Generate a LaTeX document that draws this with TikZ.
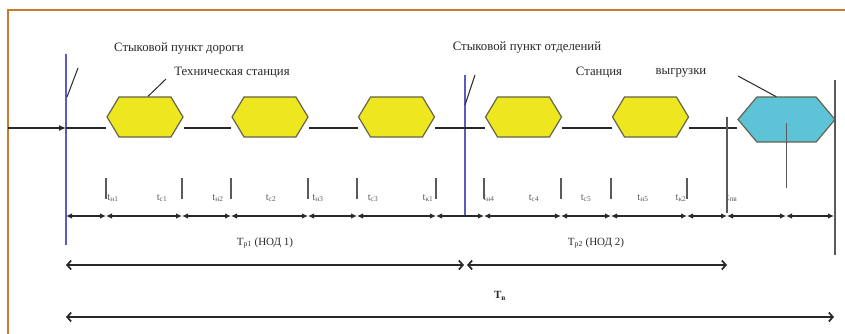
\documentclass[tikz,border=0pt]{standalone}
\usepackage{fontspec}
\setmainfont{Liberation Serif}
\usetikzlibrary{shapes.symbols,arrows.meta,calc}

\definecolor{frameorange}{RGB}{200,122,45}
\definecolor{junctionblue}{RGB}{92,92,190}
\definecolor{hexyellow}{RGB}{238,230,30}
\definecolor{hexcyan}{RGB}{92,196,214}
\definecolor{hexedge}{RGB}{100,100,80}
\definecolor{ink}{RGB}{40,40,40}
\definecolor{softink}{RGB}{90,90,90}

\begin{document}
\begin{tikzpicture}[x=1pt,y=-1pt,
  station/.style={shape=signal, signal to=east and west, draw=hexedge,
    line width=1.2pt, fill=hexyellow, inner sep=0pt,
    minimum width=76pt, minimum height=40pt, signal pointer angle=118},
  unloading/.style={station, fill=hexcyan, minimum width=97pt,
    minimum height=45pt, signal pointer angle=100},
  track/.style={draw=ink, line width=1.2pt},
  junction/.style={draw=junctionblue, line width=2.6pt},
  leader/.style={draw=ink, line width=1pt},
  tickmark/.style={draw=softink, line width=1.2pt},
  segment/.style={draw=ink, line width=1.3pt,
    {Latex[length=6pt,width=5.5pt]}-{Latex[length=6pt,width=5.5pt]}},
  span/.style={draw=ink, line width=1.7pt,
    {Straight Barb[length=4pt,width=9pt]}-{Straight Barb[length=4pt,width=9pt]}},
  caption/.style={text=ink, font=\fontsize{12.8}{14}\selectfont, inner sep=0pt},
  tlabel/.style={text=softink, font=\fontsize{10.5}{12}\selectfont, inner sep=0pt},
  spanlabel/.style={text=ink, font=\fontsize{11}{13}\selectfont, inner sep=0pt}
]
\useasboundingbox (0,0) rectangle (845,334);

% page frame
\draw[frameorange, line width=1.3pt] (8,334) -- (8,10) -- (845,10);

% captions
\node[caption] (capRoad) at (179,49) {Стыковой пункт дороги};
\node[caption] (capTech) at (232,73) {Техническая станция};
\node[caption] (capDiv)  at (527,48) {Стыковой пункт отделений};
\node[caption] (capSt)   at (599,73) {Станция};
\node[caption] (capUnl)  at (681,73) {выгрузки};

% stations
\node[station] (s1) at (145,117) {};
\node[station] (s2) at (270,117) {};
\node[station] (s3) at (396.5,117) {};
\node[station] (s4) at (523.5,117) {};
\node[station] (s5) at (650.5,117) {};
\node[unloading] (s6) at (786.5,119.5) {};

% junction lines
\coordinate (j1top) at (66,54);   \coordinate (j1bot) at (66,245);
\coordinate (j2top) at (465,75);  \coordinate (j2bot) at (465,215);
\draw[junction] (j1top) -- (j1bot);
\draw[junction] (j2top) -- (j2bot);

% slashes marking the junction points
\coordinate (sl1a) at (67,97);  \coordinate (sl1b) at (78,68);
\coordinate (sl2a) at (465,105); \coordinate (sl2b) at (475,75);
\draw[leader] (sl1a) -- (sl1b);
\draw[leader] (sl2a) -- (sl2b);

% leader lines to stations
\coordinate (ld1) at (166,79);
\draw[leader] (ld1) -- ($(s1.north)+(3,0)$);
\coordinate (ld2) at (738,76);
\draw[leader] (ld2) -- ($(s6.north west)+(20,0)$);

% main track
\coordinate (in) at (8,128);
\coordinate (j1track) at (66,128);
\draw[track, -{Latex[length=7pt,width=6pt]}] (in) -- (j1track);
\draw[track] (j1track) -- (s1.west |- j1track);
\draw[track] (s1.east |- j1track) -- (s2.west |- j1track);
\draw[track] (s2.east |- j1track) -- (s3.west |- j1track);
\draw[track] (s3.east |- j1track) -- (s4.west |- j1track);
\draw[track] (s4.east |- j1track) -- (s5.west |- j1track);
\draw[track] (s5.east |- j1track) -- (s6.west |- j1track);

% verticals at the unloading station
\coordinate (v1top) at (727,117); \coordinate (v1bot) at (727,213);
\draw[tickmark] (v1top) -- (v1bot);
\coordinate (v2top) at (786.5,123); \coordinate (v2bot) at (786.5,188);
\draw[tickmark] (v2top) -- (v2bot);
\coordinate (v3top) at (835,80); \coordinate (v3bot) at (835,255);
\draw[draw=softink, line width=2.6pt] (v3top) -- (v3bot);

% time line
\foreach \i/\x in {0/66,1/106,2/182,3/231,4/308,5/357,6/436,7/484,
                   8/561,9/611,10/687,11/727,12/786,13/834}
  \coordinate (b\i) at (\x,216);
\foreach \a/\b in {0/1,1/2,2/3,3/4,4/5,5/6,6/7,7/8,8/9,9/10,10/11,11/12,12/13}
  \draw[segment] (b\a) -- (b\b);
\foreach \i in {1,...,10}
  \draw[tickmark] ($(b\i)+(0,-38)$) -- ($(b\i)+(0,-17)$);

% interval labels
\node[tlabel] (t1)  at (113,198) {t\textsubscript{н1}};
\node[tlabel] (t2)  at (162,198) {t\textsubscript{с1}};
\node[tlabel] (t3)  at (218,198) {t\textsubscript{н2}};
\node[tlabel] (t4)  at (271,198) {t\textsubscript{с2}};
\node[tlabel] (t5)  at (318,198) {t\textsubscript{н3}};
\node[tlabel] (t6)  at (373,198) {t\textsubscript{с3}};
\node[tlabel] (t7)  at (428,198) {t\textsubscript{к1}};
\node[tlabel] (t8)  at (489,198) {t\textsubscript{н4}};
\node[tlabel] (t9)  at (534,198) {t\textsubscript{с4}};
\node[tlabel] (t10) at (586,198) {t\textsubscript{с5}};
\node[tlabel] (t11) at (643,198) {t\textsubscript{н5}};
\node[tlabel] (t12) at (681,198) {t\textsubscript{к2}};
\node[tlabel] (t13) at (732,198) {t\textsubscript{пв}};

% route spans
\coordinate (p0) at (66,265); \coordinate (p1) at (464,265);
\coordinate (p2) at (467,265); \coordinate (p3) at (727,265);
\coordinate (q0) at (66,317); \coordinate (q1) at (834,317);
\draw[span] (p0) -- (p1);
\draw[span] (p2) -- (p3);
\draw[span] (q0) -- (q1);
\node[spanlabel] (T1) at (265,243) {T\textsubscript{р1} (НОД 1)};
\node[spanlabel] (T2) at (596,243) {T\textsubscript{р2} (НОД 2)};
\node[spanlabel, font=\fontsize{11}{13}\selectfont\bfseries] (Tv) at (500,296) {T\textsubscript{в}};
\end{tikzpicture}
\end{document}
